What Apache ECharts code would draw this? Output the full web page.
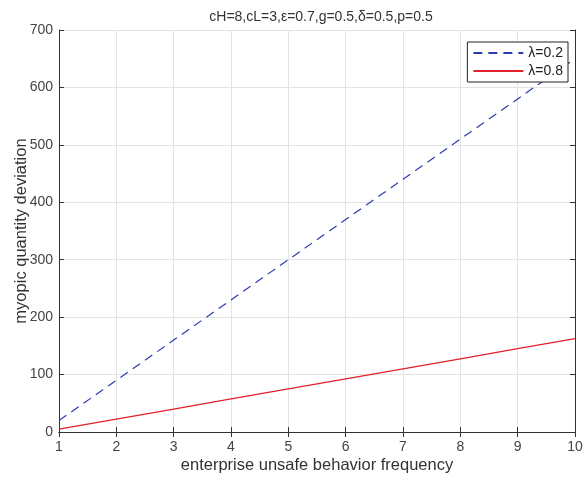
<!DOCTYPE html>
<html><head><meta charset="utf-8">
<script src="https://cdn.jsdelivr.net/npm/echarts@6/dist/echarts.min.js"></script>
<style>html,body{margin:0;padding:0;background:#fff}#c{width:585px;height:484px}</style>
</head><body><div id="c"></div>
<script>
const xValues = [1,2,3,4,5,6,7,8,9,10];
const lambda02 = [20,90,160,230,300,370,440,510,580,650];
const lambda08 = [5,22.5,40,57.5,75,92.5,110,127.5,145,162.5];
const seriesNames = ['λ=0.2','λ=0.8'];
const titleText = 'cH=8,cL=3,ε=0.7,g=0.5,δ=0.5,p=0.5';

const font = 'Arial, "Liberation Sans", sans-serif';
const chart = echarts.init(document.getElementById('c'));
const pair = arr => xValues.map((x,i)=>[x,arr[i]]);
const gridLine = {show:true, lineStyle:{color:'#e3e3e3', width:1}};
const axisCol = '#333';
chart.setOption({
  animation:false,
  title:{text:titleText, left:316, textAlign:'center', top:5,
    textStyle:{fontFamily:font, fontSize:14, fontWeight:'normal', color:'#333'}},
  grid:{left:59, right:10, top:30, bottom:52, containLabel:false, outerBoundsMode:'none'},
  legend:{
    data:seriesNames, orient:'vertical', right:17, top:42,
    backgroundColor:'#fff', borderColor:'#222', borderWidth:1, borderRadius:0,
    padding:[4,5,4,5], itemGap:4, itemWidth:50, itemHeight:12,
    itemStyle:{opacity:0},
    textStyle:{fontFamily:font, fontSize:14, color:'#222'}
  },
  xAxis:[{
    type:'value', min:1, max:10, interval:1,
    name:'enterprise unsafe behavior frequency', nameLocation:'middle', nameGap:25,
    nameMoveOverlap:false,
    nameTextStyle:{fontFamily:font, fontSize:16.5, color:'#333'},
    axisLine:{show:true, lineStyle:{color:axisCol}},
    axisTick:{show:true, inside:true, length:5, lineStyle:{color:axisCol}},
    axisLabel:{fontFamily:font, fontSize:14, color:'#444', margin:8},
    splitLine:gridLine
  },{
    type:'value', min:1, max:10, interval:1, position:'top',
    axisLine:{show:true, lineStyle:{color:axisCol}},
    axisTick:{show:true, inside:true, length:5, lineStyle:{color:axisCol}},
    axisLabel:{show:false}, splitLine:{show:false}
  }],
  yAxis:[{
    type:'value', min:0, max:700, interval:100,
    name:'myopic quantity deviation', nameLocation:'middle', nameGap:29,
    nameMoveOverlap:false,
    nameTextStyle:{fontFamily:font, fontSize:16.5, color:'#333'},
    axisLine:{show:true, lineStyle:{color:axisCol}},
    axisTick:{show:true, inside:true, length:5, lineStyle:{color:axisCol}},
    axisLabel:{fontFamily:font, fontSize:14, color:'#444', margin:6},
    splitLine:gridLine
  },{
    type:'value', min:0, max:700, interval:100, position:'right',
    axisLine:{show:true, lineStyle:{color:axisCol}},
    axisTick:{show:true, inside:true, length:5, lineStyle:{color:axisCol}},
    axisLabel:{show:false}, splitLine:{show:false}
  }],
  series:[{
    name:seriesNames[0], type:'line', data:pair(lambda02), symbol:'none',
    lineStyle:{color:'#2c3cb0', width:1.2, type:[9,6]}, itemStyle:{color:'#2c3cb0'}
  },{
    name:seriesNames[1], type:'line', data:pair(lambda08), symbol:'none',
    lineStyle:{color:'#e0202a', width:1.3}, itemStyle:{color:'#e0202a'}
  }]
});
</script></body></html>
